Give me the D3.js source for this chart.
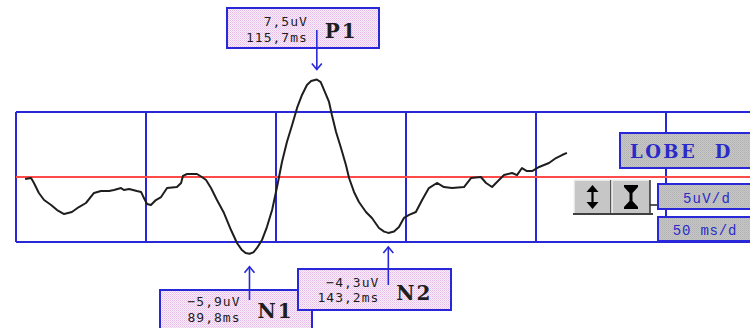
<!DOCTYPE html>
<html>
<head>
<meta charset="utf-8">
<script src="https://cdn.jsdelivr.net/npm/d3@7"></script>
<style>
  html, body { margin: 0; padding: 0; background: #ffffff; }
  svg { display: block; }
</style>
</head>
<body>
<svg id="chart" width="750" height="328"></svg>
<script>
// Evoked potential trace: latency (ms) and amplitude (uV)
const times = [3.5, 5.8, 6.9, 8.8, 10.8, 13.5, 15.8, 18.5, 21.5, 24.2, 26.9, 30.0, 32.7, 35.8, 37.7,
  40.4, 41.5, 43.5, 46.5, 48.1, 49.2, 50.4, 51.9, 53.8, 55.8, 58.1, 61.9, 63.5, 64.2, 65.8, 69.6,
  71.5, 73.1, 75.0, 77.3, 80.0, 82.7, 85.0, 86.9, 88.3, 89.8, 91.3, 92.7, 94.6, 96.5, 98.5, 100.4,
  102.3, 104.2, 106.2, 108.1, 110.0, 111.9, 113.5, 115.7, 117.2, 118.5, 120.4, 121.5, 123.1, 125.0,
  126.9, 128.1, 130.0, 131.9, 134.6, 136.9, 139.6, 141.6, 143.2, 145.4, 147.3, 149.2, 151.2, 153.8,
  156.2, 158.8, 161.9, 164.6, 167.7, 172.3, 175.0, 178.8, 180.8, 183.1, 185.0, 187.7, 190.8, 192.7,
  194.6, 196.5, 198.5, 201.2, 205.0, 207.7, 210.0, 211.9];
const microvolts = [-0.15, -0.08, -0.46, -1.23, -1.77, -2.15, -2.54, -2.85, -2.69, -2.31, -2.0, -1.23, -1.08, -1.08, -1.0,
  -0.85, -1.0, -0.92, -1.08, -1.15, -1.62, -2.08, -2.15, -1.77, -1.54, -0.85, -0.77, -0.46, 0.08, 0.23, 0.23,
  0.0, -0.23, -0.85, -1.77, -2.77, -4.08, -5.08, -5.62, -5.85, -5.9, -5.8, -5.46, -4.85, -3.85, -2.54, -0.77,
  1.15, 2.69, 4.0, 5.31, 6.31, 7.08, 7.38, 7.5, 7.3, 6.69, 5.77, 4.77, 3.46, 2.23,
  0.92, -0.08, -1.15, -1.92, -2.69, -3.15, -3.92, -4.2, -4.3, -4.2, -3.85, -3.15, -2.92, -2.69,
  -1.77, -0.85, -0.46, -0.77, -0.85, -0.77, -0.08, 0.0, -0.46, -0.77, -0.38, 0.15, 0.31, 0.15,
  0.69, 0.46, 0.46, 0.77, 1.08, 1.46, 1.69, 1.85];

// Marked components
const peakNames = ["P1", "N1", "N2"];
const peakLatencies = [115.7, 89.8, 143.2];
const peakAmplitudes = [7.5, -5.9, -4.3];

// Grid divisions
const gridTimes = [0, 50, 100, 150, 200, 250];
const gridAmplitudes = [5, -5];
const ampPerDiv = "5uV/d";
const timePerDiv = "50 ms/d";
const channelName = "LOBE  D";

const svg = d3.select("#chart");
const W = 750;

// 50 ms per 130 px, 5 uV per 65 px
const x = d3.scaleLinear().domain([0, 250]).range([16, 666]);
const y = d3.scaleLinear().domain([-5, 5]).range([242, 112]);

const blue = "#2828d8";
const ink = "#1e1e1e";
const serifBold = "'DejaVu Serif', 'Liberation Serif', serif";
const smallFont = "'DejaVu Sans Mono', monospace";

// dithered fills
const defs = svg.append("defs");
const pink = defs.append("pattern").attr("id", "pinkDither")
  .attr("width", 2).attr("height", 2).attr("patternUnits", "userSpaceOnUse");
pink.append("rect").attr("width", 2).attr("height", 2).attr("fill", "#fbf0fb");
pink.append("rect").attr("width", 1).attr("height", 1).attr("fill", "#e4b8e4");
pink.append("rect").attr("x", 1).attr("y", 1).attr("width", 1).attr("height", 1).attr("fill", "#eed0ee");
const gray = defs.append("pattern").attr("id", "grayDither")
  .attr("width", 2).attr("height", 2).attr("patternUnits", "userSpaceOnUse");
gray.append("rect").attr("width", 2).attr("height", 2).attr("fill", "#c6c6c6");
gray.append("rect").attr("width", 1).attr("height", 1).attr("fill", "#b2b2b2");
gray.append("rect").attr("x", 1).attr("y", 1).attr("width", 1).attr("height", 1).attr("fill", "#babac0");

// grid frame
const grid = svg.append("g");
grid.selectAll("line.h").data(gridAmplitudes).join("line")
  .attr("x1", x(0)).attr("x2", W + 2)
  .attr("y1", d => y(d)).attr("y2", d => y(d))
  .attr("stroke", blue).attr("stroke-width", 2);
grid.selectAll("line.v").data(gridTimes).join("line")
  .attr("x1", d => x(d)).attr("x2", d => x(d))
  .attr("y1", y(5)).attr("y2", y(-5))
  .attr("stroke", blue).attr("stroke-width", 2);

// zero baseline
svg.append("line")
  .attr("x1", x(0)).attr("x2", W + 2)
  .attr("y1", y(0)).attr("y2", y(0))
  .attr("stroke", "#ff4a4a").attr("stroke-width", 2);

// waveform
const pts = times.map((t, i) => [t, microvolts[i]]);
svg.append("path")
  .datum(pts)
  .attr("fill", "none")
  .attr("stroke", ink)
  .attr("stroke-width", 2)
  .attr("stroke-linejoin", "round")
  .attr("d", d3.line().x(d => x(d[0])).y(d => y(d[1])));

// component labels
const fmt = (v, unit) => d3.format(".1f")(v).replace(".", ",") + unit;
const labelBoxes = {
  P1: { x: 227, y: 8, w: 152, h: 40, up: false, line1: 26, line2: 42, name: 38, from: 30, gap: 10 },
  N1: { x: 160, y: 290, w: 152, h: 45, up: true, line1: 306, line2: 322, name: 318, from: 300, gap: 13 },
  N2: { x: 298, y: 269, w: 153, h: 41, up: true, line1: 287, line2: 302, name: 300, from: 285, gap: 14 }
};

const drawArrow = (g, ax, y0, tip, up) => {
  g.append("line").attr("x1", ax).attr("x2", ax).attr("y1", y0).attr("y2", tip)
    .attr("stroke", blue).attr("stroke-width", 1.6);
  const s = up ? 1 : -1;
  g.append("path")
    .attr("d", `M${ax - 5},${tip + s * 6} L${ax},${tip} L${ax + 5},${tip + s * 6}`)
    .attr("fill", "none").attr("stroke", blue).attr("stroke-width", 1.6);
};

peakNames.forEach((name, i) => {
  const b = labelBoxes[name];
  const ax = x(peakLatencies[i]);
  const py = y(peakAmplitudes[i]);
  const g = svg.append("g");
  g.append("rect").attr("x", b.x).attr("y", b.y).attr("width", b.w).attr("height", b.h)
    .attr("fill", "url(#pinkDither)").attr("stroke", blue).attr("stroke-width", 2);
  const tip = b.up ? py + b.gap : py - b.gap;
  drawArrow(g, ax, b.from, tip, b.up);
  g.append("text").attr("x", ax - 9).attr("y", b.line1)
    .attr("text-anchor", "end")
    .attr("font-family", smallFont).attr("font-size", 13)
    .attr("letter-spacing", 1).attr("fill", ink)
    .text(fmt(peakAmplitudes[i], "uV"));
  g.append("text").attr("x", ax - 9).attr("y", b.line2)
    .attr("text-anchor", "end")
    .attr("font-family", smallFont).attr("font-size", 13)
    .attr("letter-spacing", 1).attr("fill", ink)
    .text(fmt(peakLatencies[i], "ms"));
  g.append("text").attr("x", ax + 8).attr("y", b.name)
    .attr("font-family", serifBold).attr("font-weight", "bold")
    .attr("font-size", 20).attr("letter-spacing", 2).attr("fill", ink)
    .text(name);
});

// channel and scale panel
const panel = svg.append("g");
panel.append("rect").attr("x", 620).attr("y", 133).attr("width", 140).attr("height", 35)
  .attr("fill", "url(#grayDither)").attr("stroke", blue).attr("stroke-width", 2);
panel.append("text").attr("x", 630).attr("y", 158)
  .attr("font-family", serifBold).attr("font-weight", "bold")
  .attr("font-size", 18).attr("letter-spacing", 2.5).attr("fill", "#2a2ac8")
  .attr("xml:space", "preserve").style("white-space", "pre")
  .text(channelName);

// connector from buttons
panel.append("line").attr("x1", 650).attr("x2", 659).attr("y1", 205).attr("y2", 205)
  .attr("stroke", "#202020").attr("stroke-width", 1.5);

panel.append("rect").attr("x", 658).attr("y", 184).attr("width", 102).attr("height", 25)
  .attr("fill", "url(#grayDither)").attr("stroke", blue).attr("stroke-width", 2);
panel.append("text").attr("x", 707).attr("y", 203).attr("text-anchor", "middle")
  .attr("font-family", "'Liberation Mono', 'Courier New', monospace")
  .attr("font-size", 14).attr("letter-spacing", 1.2).attr("fill", "#2a2ac8")
  .text(ampPerDiv);

panel.append("rect").attr("x", 658).attr("y", 217).attr("width", 102).attr("height", 24)
  .attr("fill", "url(#grayDither)").attr("stroke", blue).attr("stroke-width", 2);
panel.append("text").attr("x", 705).attr("y", 235).attr("text-anchor", "middle")
  .attr("font-family", "'Liberation Mono', 'Courier New', monospace")
  .attr("font-size", 14).attr("letter-spacing", 0.8).attr("fill", "#2a2ac8")
  .attr("xml:space", "preserve").style("white-space", "pre")
  .text(timePerDiv);

// gain buttons
const buttons = [{ x: 574, w: 37, icon: "arrows" }, { x: 612, w: 38, icon: "beam" }];
buttons.forEach(bt => {
  const g = panel.append("g");
  g.append("rect").attr("x", bt.x).attr("y", 180).attr("width", bt.w).attr("height", 33)
    .attr("fill", "#c6c6c6");
  g.append("path").attr("d", `M${bt.x},${213} V180 H${bt.x + bt.w}`)
    .attr("fill", "none").attr("stroke", "#f4f4f4").attr("stroke-width", 1.5);
  g.append("path").attr("d", `M${bt.x + bt.w},180 V213`)
    .attr("fill", "none").attr("stroke", "#303030").attr("stroke-width", 1.5);
  const cx = bt.x + bt.w / 2;
  if (bt.icon === "arrows") {
    g.append("line").attr("x1", cx).attr("x2", cx).attr("y1", 188).attr("y2", 206)
      .attr("stroke", "#000").attr("stroke-width", 2.2);
    g.append("path").attr("d", `M${cx - 6},${192} L${cx},${185} L${cx + 6},${192} Z`).attr("fill", "#000");
    g.append("path").attr("d", `M${cx - 6},${202} L${cx},${209} L${cx + 6},${202} Z`).attr("fill", "#000");
  } else {
    g.append("path")
      .attr("d", `M${cx - 7},185 H${cx + 7} V187 L${cx + 1.5},193 V201 L${cx + 7},207 V209 H${cx - 7} V207 L${cx - 1.5},201 V193 L${cx - 7},187 Z`)
      .attr("fill", "#000");
  }
});
panel.append("line").attr("x1", 573).attr("x2", 653).attr("y1", 214).attr("y2", 214)
  .attr("stroke", "#000").attr("stroke-width", 1.5);
</script>
</body>
</html>
